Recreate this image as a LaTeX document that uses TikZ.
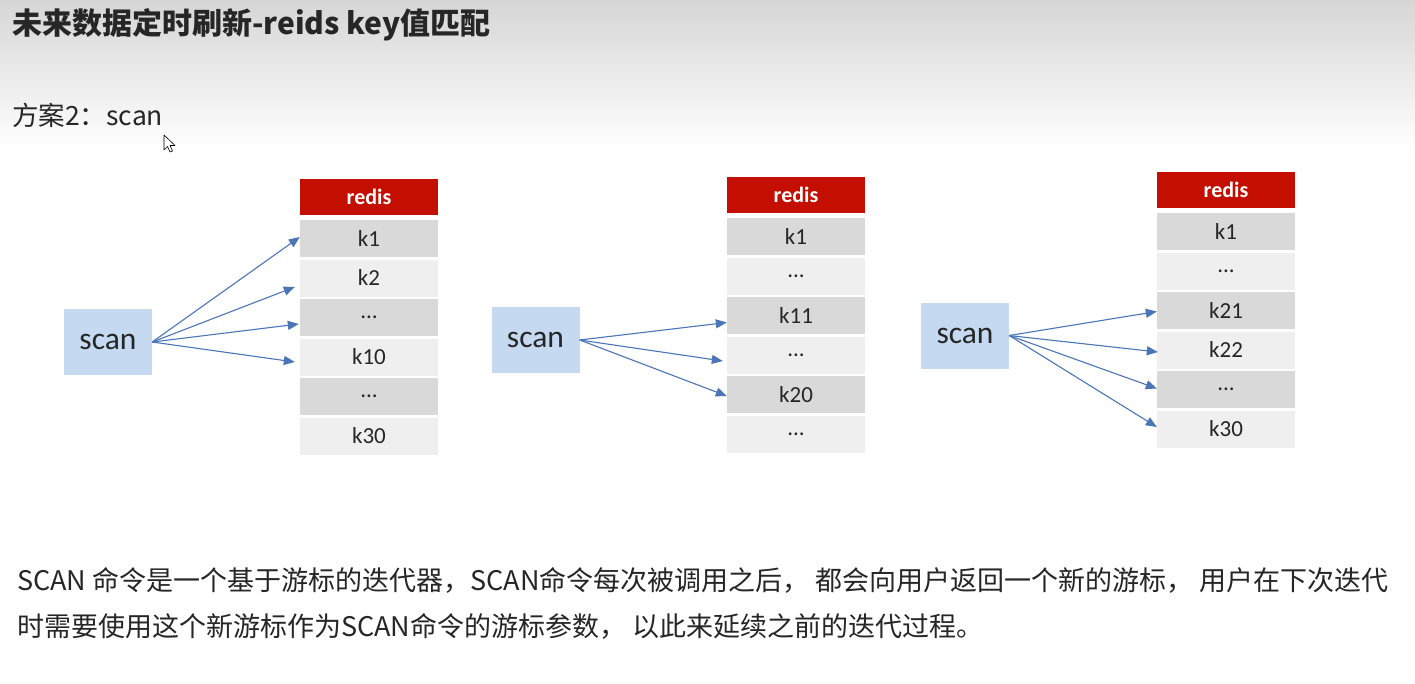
\documentclass[tikz,border=0pt]{standalone}
\usepackage{fontspec}
\usetikzlibrary{arrows.meta,calc}
\setmainfont{Carlito}
\newfontfamily\cjk{Noto Sans CJK SC}
\definecolor{ink}{HTML}{262626}
\definecolor{hdrred}{HTML}{C40F00}
\definecolor{rowdark}{HTML}{D9D9D9}
\definecolor{rowlight}{HTML}{EFEFEF}
\definecolor{scanblue}{HTML}{C5D9F1}
\definecolor{arrowblue}{HTML}{4A76B8}
\definecolor{topgray}{HTML}{D6D6D6}
\tikzset{
  hdr/.style={fill=hdrred, text=white, font=\fontsize{22}{22}\selectfont\bfseries,
    minimum width=138pt, minimum height=36pt, inner sep=0pt},
  darkrow/.style={fill=rowdark, text=ink, font=\fontsize{23}{23}\selectfont,
    minimum width=138pt, minimum height=37pt, inner sep=0pt},
  lightrow/.style={darkrow, fill=rowlight},
  scanbox/.style={fill=scanblue, text=ink, font=\fontsize{31.5}{31.5}\selectfont,
    minimum width=88pt, minimum height=66pt, inner sep=0pt},
  link/.style={draw=arrowblue, line width=1.1pt,
    -{Triangle[length=11pt,width=9pt]}},
  txt/.style={inner sep=0pt, text=ink, anchor=base west}
}
% one key column: left edge, top of header, then five row labels
\newcommand{\keycolumn}[8]{%
  \node[hdr] (#1h) at (#2+69, #3+18) {redis};
  \node[darkrow]  (#1r1) at (#2+69, #3+59.5)  {#4};
  \node[lightrow] (#1r2) at (#2+69, #3+99)    {#5};
  \node[darkrow]  (#1r3) at (#2+69, #3+138.5) {#6};
  \node[lightrow] (#1r4) at (#2+69, #3+178)   {#7};
  \node[darkrow]  (#1r5) at (#2+69, #3+217.5) {#8};
}
\begin{document}
\begin{tikzpicture}[x=1pt, y=-1pt]
  \useasboundingbox (0,0) rectangle (1415,683);
  % page background with a grey band fading out under the heading
  \fill[white] (0,0) rectangle (1415,683);
  \shade[top color=topgray, bottom color=white] (0,0) rectangle (1415,150);

  % headings
  \node[txt, font=\cjk\bfseries\fontsize{30}{30}\selectfont] (title) at (12,34)
    {未来数据定时刷新-reids key值匹配};
  \node[txt, font=\cjk\fontsize{26.5}{26.5}\selectfont] (sub) at (12,125)
    {方案2：scan};

  % pointer
  \draw[black, line width=0.6pt, fill=white, line join=round]
    (164,135) -- (164,150) -- (167.5,146.5) -- (170,152) -- (172.5,151)
    -- (170,145.5) -- (175,145.5) -- cycle;

  % first pass
  \keycolumn{a}{300}{179}{k1}{k2}{...}{k10}{...}
  \node[lightrow] (ar6) at (369,436) {k30};
  \node[scanbox] (s1) at (108,342) {scan};
  \draw[link] (s1.east) -- ([shift={(0,-1.5)}]ar1.west);
  \draw[link] (s1.east) -- ([shift={(-5,9)}]ar2.west);
  \draw[link] (s1.east) -- ([shift={(-1,6.5)}]ar3.west);
  \draw[link] (s1.east) -- ([shift={(-5,5)}]ar4.west);

  % second pass
  \keycolumn{b}{727}{177}{k1}{...}{k11}{...}{k20}
  \node[lightrow] (br6) at (796,434) {...};
  \node[scanbox] (s2) at (535.5,340) {scan};
  \draw[link] (s2.east) -- ([shift={(0,7)}]br3.west);
  \draw[link] (s2.east) -- ([shift={(-4,6)}]br4.west);
  \draw[link] (s2.east) -- ([shift={(0,1.5)}]br5.west);

  % third pass
  \keycolumn{c}{1157}{172}{k1}{...}{k21}{k22}{...}
  \node[lightrow] (cr6) at (1226,429) {k30};
  \node[scanbox] (s3) at (965,335.5) {scan};
  \draw[link] (s3.east) -- ([shift={(0,1)}]cr3.west);
  \draw[link] (s3.east) -- ([shift={(1,2)}]cr4.west);
  \draw[link] (s3.east) -- ([shift={(0,-1)}]cr5.west);
  \draw[link] (s3.east) -- ([shift={(0,-2)}]cr6.west);

  % explanation
  \node[txt, font=\cjk\fontsize{27}{27}\selectfont] (line1) at (17,590)
    {SCAN 命令是一个基于游标的迭代器，SCAN命令每次被调用之后， 都会向用户返回一个新的游标， 用户在下次迭代};
  \node[txt, font=\cjk\fontsize{27}{27}\selectfont] (line2) at (17,636)
    {时需要使用这个新游标作为SCAN命令的游标参数， 以此来延续之前的迭代过程。};
\end{tikzpicture}
\end{document}
